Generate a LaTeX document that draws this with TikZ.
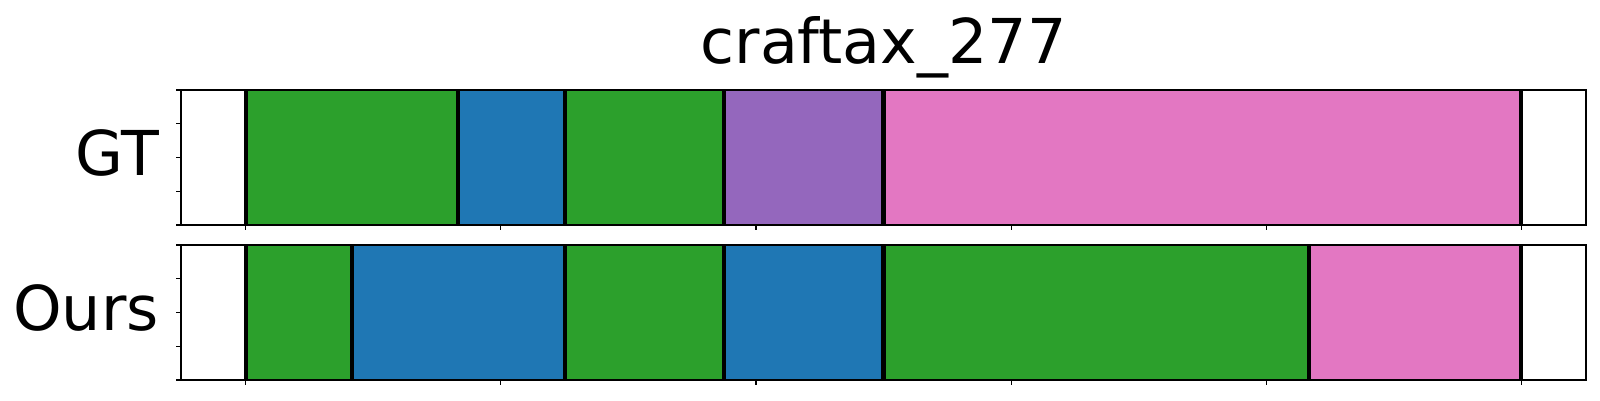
\documentclass[tikz,border=0pt]{standalone}
\usepackage{fontspec}
\setmainfont{DejaVu Sans}

\definecolor{segGreen}{HTML}{2CA02C}
\definecolor{segBlue}{HTML}{1F77B4}
\definecolor{segPurple}{HTML}{9467BD}
\definecolor{segPink}{HTML}{E377C2}

\tikzset{
    segment/.style = {draw = none},
    boundary/.style = {line width = 1.15pt, draw = black},
    frame/.style = {line width = 0.35pt, draw = black},
    tickmark/.style = {line width = 0.3pt, draw = black},
    rowlabel/.style = {anchor = base east, inner sep = 0pt, font = \fontsize{17.6}{21}\selectfont},
    titlelabel/.style = {anchor = base, inner sep = 0pt, font = \fontsize{17.6}{21}\selectfont}
}

\begin{document}
\begin{tikzpicture}
    \useasboundingbox (+0.000, +0.000) rectangle (+16.000, +4.000);

    % Title
    \node[titlelabel] (title) at (+8.835, +3.367) {craftax\_277};

    % === Upper panel (GT) ===
    \filldraw[segment, fill = segGreen] (+2.457, +1.750) rectangle (+4.583, +3.100);
    \filldraw[segment, fill = segBlue] (+4.583, +1.750) rectangle (+5.646, +3.100);
    \filldraw[segment, fill = segGreen] (+5.646, +1.750) rectangle (+7.241, +3.100);
    \filldraw[segment, fill = segPurple] (+7.241, +1.750) rectangle (+8.835, +3.100);
    \filldraw[segment, fill = segPink] (+8.835, +1.750) rectangle (+15.213, +3.100);

    % Boundaries
    \draw[boundary] (+2.457, +1.750) -- (+2.457, +3.100);
    \draw[boundary] (+4.583, +1.750) -- (+4.583, +3.100);
    \draw[boundary] (+5.646, +1.750) -- (+5.646, +3.100);
    \draw[boundary] (+7.241, +1.750) -- (+7.241, +3.100);
    \draw[boundary] (+8.835, +1.750) -- (+8.835, +3.100);
    \draw[boundary] (+15.213, +1.750) -- (+15.213, +3.100);

    % Frame and ticks
    \draw[frame] (+1.810, +1.750) rectangle (+15.860, +3.100);
    \draw[tickmark] (+1.760, +1.750) -- (+1.810, +1.750);
    \draw[tickmark] (+1.760, +2.088) -- (+1.810, +2.088);
    \draw[tickmark] (+1.760, +2.425) -- (+1.810, +2.425);
    \draw[tickmark] (+1.760, +2.763) -- (+1.810, +2.763);
    \draw[tickmark] (+1.760, +3.100) -- (+1.810, +3.100);
    \draw[tickmark] (+2.457, +1.750) -- (+2.457, +1.700);
    \draw[tickmark] (+5.008, +1.750) -- (+5.008, +1.700);
    \draw[tickmark] (+7.560, +1.750) -- (+7.560, +1.700);
    \draw[tickmark] (+10.111, +1.750) -- (+10.111, +1.700);
    \draw[tickmark] (+12.662, +1.750) -- (+12.662, +1.700);
    \draw[tickmark] (+15.213, +1.750) -- (+15.213, +1.700);

    \node[rowlabel] (gtlabel) at (+1.595, +2.250) {GT};

    % === Lower panel (Ours) ===
    \filldraw[segment, fill = segGreen] (+2.457, +0.200) rectangle (+3.520, +1.550);
    \filldraw[segment, fill = segBlue] (+3.520, +0.200) rectangle (+5.646, +1.550);
    \filldraw[segment, fill = segGreen] (+5.646, +0.200) rectangle (+7.241, +1.550);
    \filldraw[segment, fill = segBlue] (+7.241, +0.200) rectangle (+8.835, +1.550);
    \filldraw[segment, fill = segGreen] (+8.835, +0.200) rectangle (+13.087, +1.550);
    \filldraw[segment, fill = segPink] (+13.087, +0.200) rectangle (+15.213, +1.550);

    % Boundaries
    \draw[boundary] (+2.457, +0.200) -- (+2.457, +1.550);
    \draw[boundary] (+3.520, +0.200) -- (+3.520, +1.550);
    \draw[boundary] (+5.646, +0.200) -- (+5.646, +1.550);
    \draw[boundary] (+7.241, +0.200) -- (+7.241, +1.550);
    \draw[boundary] (+8.835, +0.200) -- (+8.835, +1.550);
    \draw[boundary] (+13.087, +0.200) -- (+13.087, +1.550);
    \draw[boundary] (+15.213, +0.200) -- (+15.213, +1.550);

    % Frame and ticks
    \draw[frame] (+1.810, +0.200) rectangle (+15.860, +1.550);
    \draw[tickmark] (+1.760, +0.200) -- (+1.810, +0.200);
    \draw[tickmark] (+1.760, +0.538) -- (+1.810, +0.538);
    \draw[tickmark] (+1.760, +0.875) -- (+1.810, +0.875);
    \draw[tickmark] (+1.760, +1.213) -- (+1.810, +1.213);
    \draw[tickmark] (+1.760, +1.550) -- (+1.810, +1.550);
    \draw[tickmark] (+2.457, +0.200) -- (+2.457, +0.150);
    \draw[tickmark] (+5.008, +0.200) -- (+5.008, +0.150);
    \draw[tickmark] (+7.560, +0.200) -- (+7.560, +0.150);
    \draw[tickmark] (+10.111, +0.200) -- (+10.111, +0.150);
    \draw[tickmark] (+12.662, +0.200) -- (+12.662, +0.150);
    \draw[tickmark] (+15.213, +0.200) -- (+15.213, +0.150);

    \node[rowlabel] (ourslabel) at (+1.595, +0.700) {Ours};
\end{tikzpicture}
\end{document}
